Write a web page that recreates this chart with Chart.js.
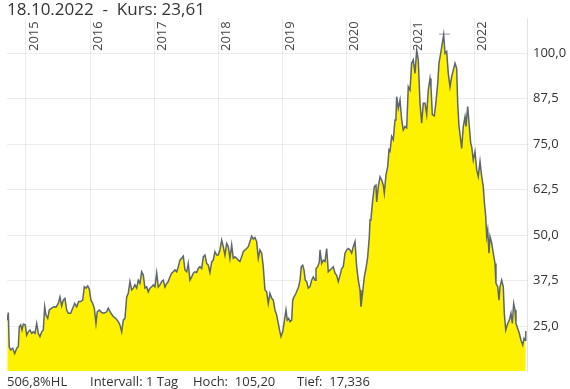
<!DOCTYPE html>
<html>
<head>
<meta charset="utf-8">
<script src="https://cdn.jsdelivr.net/npm/chart.js@4/dist/chart.umd.min.js"></script>
<style>
  html, body { margin: 0; padding: 0; background: #fff; }
  #wrap { position: relative; width: 570px; height: 389px; overflow: hidden; font-family: "Open Sans", sans-serif; color: #333; }
  #myChart { position: absolute; left: 0; top: 0; }
  .txt { position: absolute; white-space: pre; line-height: 1; }
  #head { left: 7px; top: 0px; font-size: 17px; }
  .foot { top: 375px; font-size: 13px; }
</style>
</head>
<body>
<div id="wrap">
  <canvas id="myChart" width="570" height="389"></canvas>
  <div class="txt" id="head">18.10.2022  -  Kurs: 23,61</div>
  <div class="txt foot" style="left:7px">506,8%HL</div>
  <div class="txt foot" style="left:90px">Intervall: 1 Tag</div>
  <div class="txt foot" style="left:193px">Hoch:  105,20</div>
  <div class="txt foot" style="left:297px">Tief:  17,336</div>
</div>
<script>
// daily close (decimal years)
const years = [
  2014.708, 2014.724, 2014.739, 2014.761, 2014.793, 2014.824, 2014.855, 2014.880, 2014.896, 2014.917,
  2014.938, 2014.958, 2014.989, 2015.011, 2015.036, 2015.062, 2015.089, 2015.114, 2015.140, 2015.167,
  2015.192, 2015.218, 2015.245, 2015.270, 2015.292, 2015.312, 2015.339, 2015.364, 2015.401, 2015.437,
  2015.468, 2015.504, 2015.530, 2015.557, 2015.582, 2015.608, 2015.635, 2015.660, 2015.697, 2015.729,
  2015.760, 2015.791, 2015.822, 2015.853, 2015.885, 2015.910, 2015.936, 2015.963, 2015.988, 2016.014,
  2016.041, 2016.066, 2016.092, 2016.112, 2016.144, 2016.181, 2016.217, 2016.259, 2016.284, 2016.326,
  2016.362, 2016.399, 2016.440, 2016.466, 2016.493, 2016.518, 2016.544, 2016.571, 2016.596, 2016.622,
  2016.649, 2016.674, 2016.700, 2016.727, 2016.752, 2016.778, 2016.805, 2016.830, 2016.856, 2016.883,
  2016.908, 2016.934, 2016.961, 2016.986, 2017.012, 2017.039, 2017.064, 2017.090, 2017.117, 2017.142,
  2017.168, 2017.195, 2017.220, 2017.246, 2017.273, 2017.298, 2017.324, 2017.351, 2017.376, 2017.402,
  2017.429, 2017.454, 2017.480, 2017.507, 2017.532, 2017.558, 2017.585, 2017.610, 2017.636, 2017.663,
  2017.688, 2017.714, 2017.741, 2017.766, 2017.792, 2017.819, 2017.844, 2017.870, 2017.897, 2017.922,
  2017.948, 2017.975, 2018.000, 2018.026, 2018.053, 2018.078, 2018.104, 2018.131, 2018.156, 2018.182,
  2018.209, 2018.234, 2018.260, 2018.287, 2018.312, 2018.338, 2018.365, 2018.390, 2018.416, 2018.443,
  2018.468, 2018.494, 2018.521, 2018.546, 2018.572, 2018.599, 2018.624, 2018.650, 2018.677, 2018.702,
  2018.728, 2018.755, 2018.780, 2018.806, 2018.833, 2018.858, 2018.884, 2018.911, 2018.936, 2018.962,
  2018.978, 2019.005, 2019.025, 2019.056, 2019.076, 2019.098, 2019.119, 2019.145, 2019.161, 2019.181,
  2019.212, 2019.232, 2019.254, 2019.275, 2019.295, 2019.317, 2019.337, 2019.357, 2019.379, 2019.404,
  2019.431, 2019.457, 2019.482, 2019.509, 2019.524, 2019.551, 2019.576, 2019.587, 2019.613, 2019.638,
  2019.665, 2019.691, 2019.716, 2019.743, 2019.769, 2019.794, 2019.821, 2019.847, 2019.872, 2019.899,
  2019.925, 2019.950, 2019.977, 2020.003, 2020.028, 2020.055, 2020.081, 2020.106, 2020.133, 2020.159,
  2020.184, 2020.211, 2020.226, 2020.253, 2020.278, 2020.304, 2020.331, 2020.356, 2020.367, 2020.382,
  2020.409, 2020.434, 2020.460, 2020.471, 2020.496, 2020.523, 2020.549, 2020.574, 2020.590, 2020.616,
  2020.643, 2020.663, 2020.679, 2020.705, 2020.730, 2020.757, 2020.772, 2020.783, 2020.808, 2020.835,
  2020.861, 2020.886, 2020.913, 2020.939, 2020.964, 2020.991, 2021.017, 2021.042, 2021.069, 2021.095,
  2021.120, 2021.147, 2021.173, 2021.198, 2021.225, 2021.251, 2021.276, 2021.303, 2021.318, 2021.339,
  2021.370, 2021.396, 2021.423, 2021.443, 2021.474, 2021.495, 2021.516, 2021.537, 2021.563, 2021.588,
  2021.615, 2021.641, 2021.666, 2021.693, 2021.719, 2021.735, 2021.755, 2021.775, 2021.797, 2021.822,
  2021.849, 2021.864, 2021.891, 2021.916, 2021.938, 2021.953, 2021.978, 2022.005, 2022.031, 2022.056,
  2022.083, 2022.109, 2022.134, 2022.150, 2022.172, 2022.187, 2022.203, 2022.223, 2022.239, 2022.265,
  2022.290, 2022.317, 2022.332, 2022.359, 2022.379, 2022.395, 2022.421, 2022.446, 2022.462, 2022.484,
  2022.515, 2022.540, 2022.566, 2022.587, 2022.608, 2022.629, 2022.644, 2022.671, 2022.696, 2022.722,
  2022.749, 2022.769, 2022.785, 2022.796
];

const prices = [
  26.6, 28.7, 19.3, 18.4, 18.9, 17.4, 18.9, 19.3, 24.8, 25.3,
  23.9, 25.5, 25.3, 22.5, 23.4, 23.9, 23.0, 23.4, 23.0, 25.7,
  23.0, 22.1, 23.4, 23.9, 30.3, 28.0, 27.1, 29.4, 29.9, 30.3,
  30.2, 31.2, 33.0, 30.5, 32.1, 32.6, 29.4, 28.5, 28.5, 29.9,
  31.2, 30.3, 31.7, 31.7, 32.1, 35.8, 35.4, 36.0, 35.1, 32.1,
  31.2, 29.9, 25.7, 28.9, 29.4, 28.7, 28.5, 28.9, 29.9, 28.5,
  27.6, 27.1, 26.2, 25.3, 23.4, 26.6, 27.1, 33.0, 34.0, 37.2,
  34.9, 35.4, 36.3, 35.4, 37.6, 36.7, 39.9, 39.0, 35.4, 35.8,
  34.4, 35.4, 35.8, 36.3, 35.8, 39.6, 35.7, 36.3, 37.2, 37.6,
  35.7, 36.7, 37.2, 38.5, 39.5, 39.9, 40.4, 39.9, 41.3, 43.1,
  43.6, 44.2, 40.4, 39.9, 42.2, 37.6, 38.5, 39.5, 39.9, 39.7,
  40.8, 41.3, 40.8, 44.0, 44.5, 42.2, 41.7, 39.7, 42.6, 43.1,
  45.4, 44.5, 44.5, 45.9, 48.6, 46.8, 44.5, 47.7, 46.8, 43.6,
  47.3, 43.6, 44.0, 43.6, 43.1, 42.7, 44.0, 45.4, 45.9, 46.3,
  46.8, 48.2, 49.7, 48.9, 49.3, 48.2, 43.6, 45.9, 45.0, 41.3,
  34.9, 34.4, 31.2, 34.0, 32.6, 32.1, 29.4, 28.0, 25.7, 23.4,
  22.1, 23.4, 25.7, 29.4, 26.6, 27.1, 26.2, 26.6, 32.1, 33.0,
  34.0, 34.9, 35.8, 37.6, 41.3, 41.7, 40.4, 37.6, 37.2, 35.4,
  35.8, 37.6, 38.5, 37.6, 40.8, 41.3, 42.6, 45.9, 42.2, 43.1,
  42.7, 46.3, 39.9, 40.4, 40.8, 41.3, 39.5, 38.9, 37.2, 38.9,
  40.8, 41.3, 45.0, 45.9, 46.3, 45.9, 45.0, 46.8, 48.2, 41.3,
  37.6, 34.9, 30.3, 34.4, 38.5, 40.8, 44.0, 49.5, 54.1, 54.5,
  59.6, 63.3, 63.7, 59.1, 63.3, 66.0, 65.1, 63.7, 61.5, 66.5,
  68.8, 73.4, 73.0, 77.1, 76.2, 81.6, 82.5, 88.0, 84.8, 87.1,
  81.6, 78.9, 79.8, 79.4, 90.7, 89.8, 97.2, 98.1, 94.4, 100.8,
  98.1, 86.2, 80.7, 86.2, 86.2, 83.1, 89.8, 93.0, 90.7, 83.1,
  82.7, 86.6, 91.6, 97.2, 100.4, 102.7, 105.0, 99.9, 100.4, 94.4,
  90.7, 93.5, 95.3, 97.2, 95.8, 86.2, 79.8, 77.1, 73.8, 79.8,
  82.5, 79.8, 85.3, 79.8, 75.2, 74.3, 70.6, 72.9, 67.9, 66.1,
  70.2, 66.1, 63.3, 59.2, 55.1, 49.6, 51.4, 45.0, 49.6, 47.8,
  45.0, 42.2, 36.7, 35.8, 32.1, 35.8, 37.6, 35.8, 28.5, 23.9,
  25.7, 26.6, 28.5, 25.7, 31.2, 29.4, 25.7, 24.3, 23.0, 21.1,
  19.8, 21.6, 21.1, 23.6
];

// high / low markers
const high_value = 105.20;
const high_span  = [2021.443, 2021.615];
const low_value  = 17.336;
const low_span   = [2014.761, 2014.929];

const year_ticks = [2015, 2016, 2017, 2018, 2019, 2020, 2021, 2022];

let context = document.getElementById('myChart');

const price_points = years.map((x, i) => ({ x: x, y: prices[i] }));

// year labels are drawn inside the plot, next to each grid line
const year_labels = {
    id: 'year_labels',
    afterDraw(chart) {
        const ctx = chart.ctx;
        const xs = chart.scales.x;
        const top = chart.chartArea.top;
        ctx.save();
        ctx.fillStyle = '#444';
        ctx.font = '13px "Open Sans"';
        ctx.textAlign = 'left';
        ctx.textBaseline = 'top';
        year_ticks.forEach(yr => {
            const px = xs.getPixelForValue(yr);
            ctx.save();
            ctx.translate(px + 1.5, top + 33);
            ctx.rotate(-Math.PI / 2);
            ctx.fillText(String(yr), 0, 0);
            ctx.restore();
        });
        ctx.restore();
    }
};

const data = {
    datasets: [{
        data: price_points,
        borderColor: '#5d656d',
        borderWidth: 1.5,
        backgroundColor: '#fff200',
        fill: 'start',
        pointRadius: 0,
        tension: 0
    }, {
        data: high_span.map(x => ({ x: x, y: high_value })),
        borderColor: '#9a9a9a',
        borderWidth: 1,
        fill: false,
        pointRadius: 0
    }, {
        data: low_span.map(x => ({ x: x, y: low_value })),
        borderColor: '#9a9a9a',
        borderWidth: 1,
        fill: false,
        pointRadius: 0
    }]
};

const options = {
    responsive: false,
    animation: false,
    layout: {
        padding: { left: 7, top: 18, bottom: 18, right: 0 }
    },
    scales: {
        x: {
            type: 'linear',
            min: 2014.704,
            max: 2022.816,
            z: 1,
            grid: {
                color: 'rgba(0,0,0,0.075)',
                drawTicks: false
            },
            border: { display: false },
            ticks: {
                display: false,
                stepSize: 1,
                includeBounds: false
            }
        },
        y: {
            position: 'right',
            min: 12.64,
            max: 109.62,
            z: 1,
            afterFit(scale) { scale.width = 43; },
            grid: {
                color: 'rgba(0,0,0,0.075)',
                drawTicks: false
            },
            border: { color: '#e4e4e4' },
            ticks: {
                stepSize: 12.5,
                includeBounds: false,
                padding: 6,
                color: '#333',
                font: { family: 'Open Sans', size: 13 },
                callback: v => v.toFixed(1).replace('.', ',')
            }
        }
    },
    plugins: {
        legend: { display: false },
        tooltip: { enabled: false }
    }
};

const chart = new Chart(context, {
    type: 'line',
    data: data,
    options: options,
    plugins: [year_labels]
});
</script>
</body>
</html>
